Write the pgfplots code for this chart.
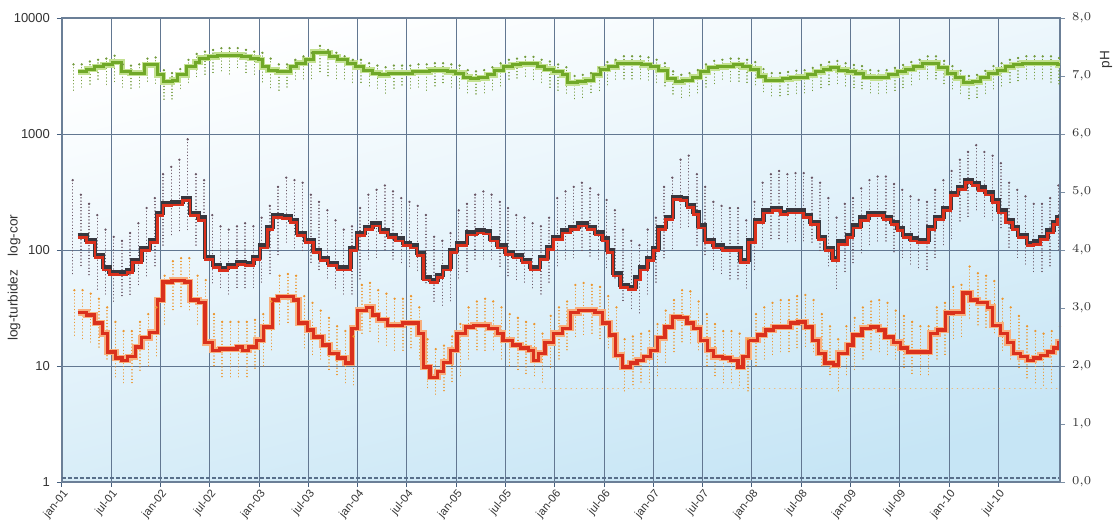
\documentclass[border=0pt]{standalone}
\usepackage{pgfplots}
\pgfplotsset{compat=1.18}
\usepackage{pgfplotstable}
\usepackage{fontspec}
\setmainfont{Liberation Sans}
\usetikzlibrary{calc}

\definecolor{gridc}{RGB}{70,95,125}
\definecolor{corc}{RGB}{55,55,62}
\definecolor{redc}{RGB}{218,48,28}
\definecolor{turbhalo}{RGB}{248,175,125}
\definecolor{greenc}{RGB}{112,168,40}
\definecolor{greenhalo}{RGB}{195,225,145}
\definecolor{cordot}{RGB}{105,85,100}
\definecolor{turbdot}{RGB}{236,150,45}
\definecolor{phdot}{RGB}{115,155,60}
\definecolor{bgblue}{RGB}{198,229,245}

\pgfplotstableread{
x y
1.9 135
3.0 122
4.0 91
5.0 71
5.8 65
6.8 64
7.9 67
8.6 82
9.7 104
10.7 122
11.6 208
12.3 255
13.4 258
14.7 281
15.6 208
16.6 190
17.4 87
18.4 74
19.2 70
20.2 74
21.3 79
22.3 77
23.3 87
24.1 110
25.0 158
25.7 200
26.8 196
27.8 181
28.6 140
29.6 122
30.6 100
31.4 85
32.4 77
33.5 71
34.2 71
35.1 104
35.9 140
36.9 158
37.8 170
38.7 149
39.7 135
40.6 126
41.5 115
42.4 110
43.2 94
44.0 58
44.8 55
45.7 61
46.4 71
47.3 100
48.1 115
49.3 142
50.5 148
51.3 145
52.1 126
53.0 110
54.0 96
54.9 90
56.0 82
57.0 71
58.2 87
59.1 106
59.8 130
60.9 148
61.9 158
62.9 170
63.9 158
64.9 142
65.8 126
66.4 100
67.1 63
68.0 50
68.9 48
69.8 58
70.4 71
71.3 85
72.0 104
72.6 158
73.5 193
74.4 286
75.3 281
76.1 245
76.9 212
77.5 163
78.3 122
79.3 110
80.4 104
82.0 104
82.6 82
83.6 122
84.4 181
85.4 220
86.5 230
87.5 212
88.4 220
90.3 200
91.1 174
92.1 130
92.9 104
93.8 85
94.5 118
95.6 135
96.3 163
97.2 190
98.2 208
100.0 193
100.9 174
101.7 155
102.4 135
103.3 126
104.1 122
105.5 158
106.3 193
107.3 230
108.2 310
109.1 350
110.0 400
110.8 380
111.6 345
112.4 315
113.3 270
114.0 220
114.9 181
115.7 158
116.4 135
117.5 115
118.3 118
119.1 130
120.0 148
120.7 174
121.2 193
121.5 193
}\cortable

\pgfplotstableread{
x y
1.9 29
3.0 27.5
4.0 23.5
4.9 19
5.5 13.2
6.5 11.7
7.3 11.2
8.0 12
8.9 14.6
9.7 17.5
10.7 19.6
11.6 37
12.3 53
13.4 55
14.9 53
15.6 37
16.6 35.5
17.4 16
18.3 13.7
19.2 14
21.3 14.6
22.0 13.7
22.7 14.6
23.7 16.7
24.5 21.7
25.6 37
26.3 39.5
28.2 37
28.8 23.5
29.9 20.4
30.6 17.8
31.7 15.2
32.6 12.9
33.6 11.7
34.5 10.6
35.3 21.2
36.0 30.3
37.1 32
37.8 27.5
38.5 25
39.6 22.5
41.5 23.5
43.4 19
44.0 9.8
44.8 8
45.7 8.9
46.4 10.8
47.3 13.7
48.1 19
49.1 21.7
50.1 22.5
51.9 21.2
53.0 19
53.7 16.7
54.8 15.2
55.8 14.3
56.8 13.7
57.4 11.2
58.0 12.9
58.8 16
59.8 19
60.9 21.2
61.9 29
62.9 30.3
64.9 29
65.8 23.5
66.7 18.5
67.4 12.4
68.2 9.8
69.2 10.6
70.0 11.2
70.8 12
71.6 13.7
72.5 17.5
73.4 21.7
74.3 26.5
75.3 26
76.1 23.5
76.9 21.2
77.7 16.7
78.6 13.7
79.3 12
80.4 11.7
81.4 11.2
82.3 9.8
82.9 12
83.6 16.7
84.7 18.5
85.6 20.4
86.6 21.7
88.7 23.5
89.6 24
90.5 21.7
91.4 16.7
92.1 12.9
92.9 10.6
93.9 10.2
94.5 12.9
95.6 15.2
96.3 18.5
97.4 21.2
98.4 21.7
99.4 20.4
100.2 17.8
101.2 16
102.1 14.3
102.9 13.2
105.7 19
106.6 20.4
107.6 28.6
108.5 29
109.7 42.6
110.6 37
111.5 35
112.7 32
113.3 22.5
114.3 19
115.1 16
115.8 12.9
116.7 12
117.5 11.2
118.3 11.7
119.1 12.4
120.0 13.2
120.7 14.3
121.3 16
121.5 16
}\turbtable

\pgfplotstableread{
x y
1.9 7.07
3.0 7.12
4.0 7.16
5.0 7.19
6.1 7.24
7.3 7.07
8.3 7.05
10.1 7.19
11.6 7.02
12.3 6.90
13.4 6.93
14.1 7.02
15.2 7.16
16.2 7.24
16.8 7.31
17.8 7.33
18.9 7.36
21.9 7.33
22.9 7.31
23.9 7.28
24.4 7.16
25.1 7.10
26.2 7.07
27.8 7.16
28.6 7.22
29.6 7.28
30.6 7.41
31.7 7.40
32.6 7.33
33.6 7.28
34.7 7.22
35.7 7.16
36.7 7.10
37.8 7.05
38.7 7.02
39.7 7.05
42.7 7.07
44.8 7.10
46.9 7.07
47.9 7.05
48.9 6.98
49.7 6.95
50.7 6.97
51.8 7.02
52.7 7.10
53.7 7.16
54.8 7.19
55.8 7.21
57.9 7.16
58.8 7.12
59.8 7.07
60.9 7.02
61.6 6.88
62.7 6.90
63.7 6.93
64.7 7.02
65.5 7.12
66.5 7.16
67.6 7.22
70.6 7.19
71.6 7.16
72.6 7.10
73.7 6.95
74.7 6.90
75.6 6.93
76.7 6.98
77.7 7.07
78.7 7.14
79.8 7.16
80.8 7.17
81.7 7.19
82.8 7.16
83.8 7.12
84.8 7.00
85.6 6.93
87.7 6.95
88.7 6.97
89.6 6.98
90.7 7.02
91.7 7.07
92.7 7.12
93.5 7.14
94.5 7.10
95.6 7.07
96.6 7.05
97.6 6.98
98.7 6.97
99.6 6.98
100.6 7.02
101.7 7.07
102.7 7.12
103.7 7.16
104.8 7.22
106.7 7.14
107.8 7.05
108.8 6.97
109.7 6.88
110.8 6.90
111.8 6.97
112.8 7.05
113.9 7.10
114.9 7.16
115.8 7.19
116.9 7.22
121.2 7.19
121.5 7.19
}\phtable

% monthly sample spread: m, colour low/high, turbidity low/high, pH low/high
\pgfplotstableread{
m cl ch tl th pl ph
1 60 400 18 45 6.75 7.20
2 70 300 17 45 6.80 7.20
3 60 250 16 42 6.85 7.25
4 45 200 14 38 6.90 7.28
5 40 150 11 32 6.85 7.30
6 35 130 8 24 6.90 7.35
7 40 120 7 20 6.80 7.20
8 40 140 7 20 6.75 7.18
9 50 170 9 24 6.80 7.20
10 60 230 10 28 6.90 7.30
11 70 280 12 32 6.85 7.32
12 110 450 22 60 6.55 7.10
13 130 520 30 80 6.60 7.05
14 140 600 32 85 6.75 7.12
15 150 900 30 85 6.85 7.28
16 110 450 22 60 6.95 7.38
17 100 400 20 55 7.00 7.42
18 50 200 10 28 7.05 7.45
19 45 160 8 24 7.05 7.48
20 40 150 8 24 7.00 7.48
21 45 160 8 24 7.10 7.48
22 45 170 8 24 7.05 7.45
23 45 160 9 25 7.00 7.42
24 50 190 10 28 6.85 7.40
25 60 240 13 36 6.80 7.30
26 90 350 22 60 6.75 7.20
27 110 420 23 62 6.80 7.20
28 100 400 22 60 6.90 7.28
29 95 380 14 40 6.95 7.34
30 75 300 12 35 6.95 7.40
31 65 260 11 30 7.05 7.52
32 55 220 9 26 7.00 7.45
33 45 180 8 22 6.95 7.40
34 40 150 7 20 6.90 7.34
35 40 160 6.5 18 6.85 7.28
36 55 230 18 50 6.85 7.28
37 80 300 19 52 6.80 7.22
38 85 330 16 45 6.75 7.18
39 95 360 15 42 6.70 7.15
40 80 320 13 38 6.75 7.18
41 75 280 13 38 6.80 7.18
42 70 260 14 40 6.75 7.18
43 65 240 11 32 6.80 7.20
44 50 200 6.5 17 6.75 7.20
45 35 130 5.5 14 6.80 7.22
46 32 120 6 15 6.85 7.22
47 35 140 7 18 6.80 7.20
48 55 220 8 23 6.75 7.18
49 65 250 11 32 6.70 7.10
50 80 300 13 36 6.65 7.08
51 80 320 13 38 6.70 7.10
52 80 300 13 36 6.75 7.15
53 70 260 11 32 6.80 7.22
54 60 230 10 28 6.90 7.28
55 55 200 9 26 6.95 7.30
56 50 190 8.5 24 6.95 7.33
57 45 170 8 23 6.90 7.33
58 40 160 7 19 6.85 7.28
59 50 190 9.5 27 6.80 7.25
60 70 280 11 32 6.75 7.20
61 80 320 13 36 6.70 7.15
62 85 350 17 50 6.60 7.00
63 95 380 18 52 6.62 7.02
64 85 340 18 50 6.68 7.05
65 80 300 17 48 6.75 7.14
66 70 270 14 40 6.85 7.24
67 55 220 11 32 6.90 7.28
68 35 150 6 17 6.95 7.34
69 30 120 6.5 18 6.95 7.34
70 28 110 7 19 6.90 7.34
71 40 150 7 20 6.90 7.32
72 50 190 8 23 6.85 7.28
73 85 350 10.5 30 6.80 7.22
74 100 420 13 37 6.65 7.08
75 150 600 16 45 6.60 7.02
76 150 650 15 44 6.65 7.05
77 110 450 13 36 6.70 7.10
78 90 350 10 28 6.80 7.20
79 65 260 8 23 6.85 7.26
80 60 240 7 20 6.90 7.28
81 55 230 7 20 6.90 7.30
82 55 230 6.5 19 6.90 7.30
83 45 180 6 17 6.88 7.28
84 65 260 10 28 6.85 7.24
85 100 380 11 32 6.70 7.12
86 120 450 12 35 6.65 7.05
87 125 480 13 37 6.65 7.05
88 115 450 13 37 6.68 7.07
89 120 460 14 40 6.70 7.09
90 120 460 14 41 6.70 7.10
91 110 420 13 37 6.75 7.14
92 95 380 10 28 6.80 7.19
93 70 280 8 22 6.85 7.24
94 45 190 6 17 6.85 7.26
95 65 250 8 22 6.80 7.22
96 75 280 9 26 6.80 7.19
97 90 340 11 32 6.75 7.17
98 105 400 13 36 6.70 7.10
99 115 430 13 37 6.68 7.09
100 115 430 12 35 6.70 7.10
101 95 370 11 30 6.75 7.14
102 85 330 9.5 27 6.80 7.19
103 75 290 8.5 24 6.85 7.24
104 70 270 8 22 6.90 7.28
105 65 260 8 22 6.95 7.34
106 85 330 11 32 6.90 7.34
107 105 400 12 35 6.85 7.26
108 125 480 17 48 6.75 7.17
109 170 600 17 50 6.70 7.09
110 190 700 25 72 6.60 7.00
111 210 800 22 63 6.62 7.02
112 190 700 21 60 6.68 7.09
113 170 650 19 54 6.75 7.17
114 150 560 13 38 6.80 7.22
115 100 380 11 32 6.85 7.28
116 85 330 9.5 27 6.90 7.31
117 75 290 7.5 22 6.90 7.34
118 62 250 7 20 6.90 7.34
119 65 250 6.5 19 6.90 7.34
120 70 280 7 20 6.85 7.34
121 95 360 8 22 6.85 7.31
}\spread

\begin{document}
\begin{tikzpicture}
\pgfplotsset{
  every tick label/.append style={font=\fontsize{6.5}{7}\selectfont, text=black!80},
}
\begin{axis}[
  name=main,
  scale only axis,
  width=499pt, height=232pt,
  xmin=0, xmax=121.5,
  ymode=log, ymin=1, ymax=10000,
  ytick={1,10,100,1000,10000},
  yticklabels={1,10,100,1000,10000},
  xtick={0,6,...,114},
  xticklabels={jan-01,jul-01,jan-02,jul-02,jan-03,jul-03,jan-04,jul-04,jan-05,jul-05,jan-06,jul-06,jan-07,jul-07,jan-08,jul-08,jan-09,jul-09,jan-10,jul-10},
  xticklabel style={rotate=50, anchor=north east, inner sep=0.5pt, font=\fontsize{5.6}{6}\selectfont},
  ytick pos=left, xtick pos=bottom,
  tick align=outside,
  major tick length=2.5pt,
  minor tick length=0pt,
  tick style={gridc, line width=0.5pt},
  grid=major,
  major grid style={gridc!85, line width=0.5pt},
  axis line style={gridc!80, line width=0.6pt},
  axis background/.style={shade, top color=white, bottom color=bgblue, shading angle=14},
  ylabel={log-turbidez\quad log-cor},
  ylabel style={font=\fontsize{6.8}{8}\selectfont, text=black!80, at={(axis description cs:0,0.44)}, anchor=center, rotate=0, yshift=24pt},
  clip=true,
]
% detection-limit style rows
\addplot[gridc!90, line width=0.7pt, dash pattern=on 2pt off 1pt] coordinates {(0,1.08) (121.5,1.08)};
\addplot[turbdot!70, line width=0.8pt, line cap=round, dash pattern=on 0.01pt off 2.6pt] coordinates {(55,6.4) (121.5,6.4)};
% sample spread, colour
\addplot[only marks, mark=*, mark size=0.35pt, color=cordot,
  error bars/.cd, y dir=minus, y explicit, error mark=none,
  error bar style={color=cordot, line width=0.7pt, line cap=round, dash pattern=on 0.01pt off 1.6pt}]
  table[x expr=\thisrow{m}+0.3, y=ch, y error minus expr=\thisrow{ch}-\thisrow{cl}] {\spread};
% sample spread, turbidity
\addplot[only marks, mark=*, mark size=0.35pt, color=turbdot,
  error bars/.cd, y dir=minus, y explicit, error mark=none,
  error bar style={color=turbdot, line width=0.7pt, line cap=round, dash pattern=on 0.01pt off 1.6pt}]
  table[x expr=\thisrow{m}+0.5, y=th, y error minus expr=\thisrow{th}-\thisrow{tl}] {\spread};
% colour step lines
\addplot[const plot, corc, line width=2.2pt] table {\cortable};
\addplot[const plot, redc, line width=1.3pt, yshift=-1.3pt] table {\cortable};
% turbidity step lines
\addplot[const plot, turbhalo, line width=3.2pt] table {\turbtable};
\addplot[const plot, redc, line width=1.6pt] table {\turbtable};
\coordinate (ll) at (rel axis cs:0,0);
\coordinate (ur) at (rel axis cs:1,1);
\end{axis}
\begin{axis}[
  scale only axis,
  width=499pt, height=232pt,
  xmin=0, xmax=121.5,
  ymin=0, ymax=8,
  axis x line=none,
  axis y line*=right,
  ytick={0,1,...,8},
  yticklabel style={/pgf/number format/.cd, fixed, fixed zerofill, precision=1, use comma},
  tick align=outside,
  major tick length=2.5pt,
  tick style={gridc!70, line width=0.5pt},
  axis line style={gridc!80, line width=0.6pt},
  ylabel={pH},
  ylabel style={font=\fontsize{6.8}{8}\selectfont, text=black!80, at={(axis description cs:1,0.91)}, anchor=center, yshift=-23pt},
]
\addplot[only marks, mark=*, mark size=0.35pt, color=phdot,
  error bars/.cd, y dir=minus, y explicit, error mark=none,
  error bar style={color=phdot, line width=0.7pt, line cap=round, dash pattern=on 0.01pt off 1.6pt}]
  table[x expr=\thisrow{m}+0.4, y=ph, y error minus expr=\thisrow{ph}-\thisrow{pl}] {\spread};
\addplot[const plot, greenhalo, line width=3pt] table {\phtable};
\addplot[const plot, greenc, line width=1.5pt] table {\phtable};
\end{axis}
\pgfresetboundingbox
\path[use as bounding box] ($(ll)+(-31pt,-19.5pt)$) rectangle ($(ur)+(29pt,9pt)$);
\end{tikzpicture}
\end{document}
